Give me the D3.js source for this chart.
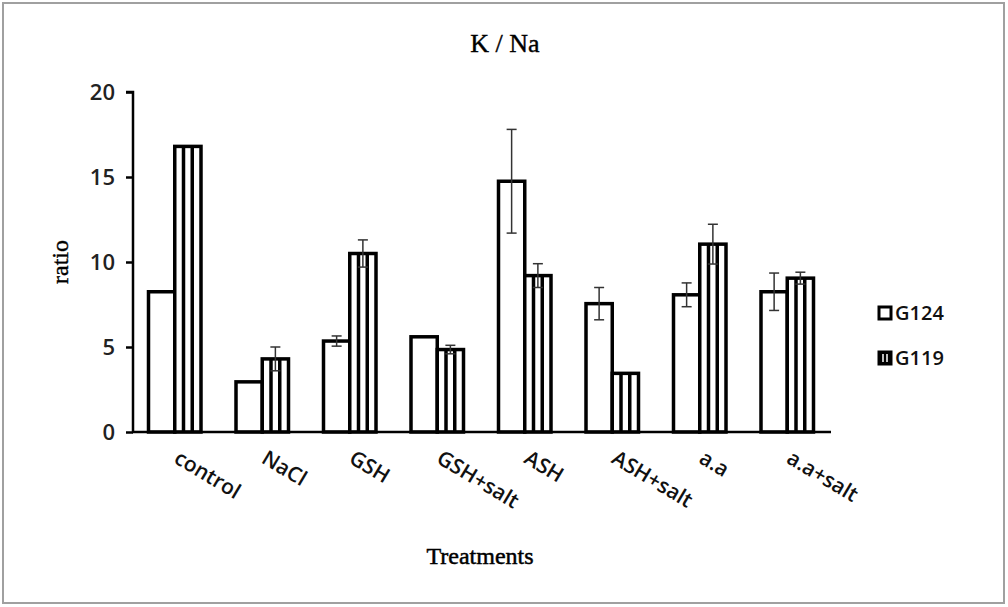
<!DOCTYPE html>
<html>
<head>
<meta charset="utf-8">
<script src="https://cdn.jsdelivr.net/npm/d3@7"></script>
<style>
  body { margin: 0; background: #fff; }
  svg { display: block; }
</style>
</head>
<body>
<svg id="chart" width="1008" height="607"></svg>
<script>
const categories = ['control', 'NaCl', 'GSH', 'GSH+salt', 'ASH', 'ASH+salt', 'a.a', 'a.a+salt'];
const seriesNames = ['G124', 'G119'];
const g124 = [8.25, 2.95, 5.35, 5.6, 14.75, 7.55, 8.07, 8.25];
const g124Err = [0.05, 0, 0.3, 0, 3.05, 0.95, 0.7, 1.1];
const g119 = [16.8, 4.3, 10.5, 4.85, 9.2, 3.45, 11.05, 9.05];
const g119Err = [0.05, 0.7, 0.8, 0.25, 0.7, 0, 1.17, 0.35];
const yTicks = [0, 5, 10, 15, 20];

const sans = '"Open Sans", sans-serif';
const serif = '"Liberation Serif", serif';

const svg = d3.select('#chart');

// outer frame
svg.append('rect')
  .attr('x', 3).attr('y', 3)
  .attr('width', 1001).attr('height', 600)
  .attr('fill', 'white')
  .attr('stroke', '#a0a0a0')
  .attr('stroke-width', 2);

const x = d3.scaleBand().domain(categories).range([131, 831]).paddingInner(0.4).paddingOuter(0.2);
const xs = d3.scaleBand().domain(seriesNames).range([0, x.bandwidth()]);
const y = d3.scaleLinear().domain([0, 20]).range([432, 92]);

const rows = categories.map((c, i) => ({
  cat: c,
  bars: [
    { name: 'G124', value: g124[i], err: g124Err[i] },
    { name: 'G119', value: g119[i], err: g119Err[i] }
  ]
}));

const groups = svg.selectAll('g.grp')
  .data(rows)
  .enter()
  .append('g')
  .attr('class', 'grp')
  .attr('transform', (d) => `translate(${x(d.cat)},0)`);

const bar = groups.selectAll('g.bar')
  .data((d) => d.bars)
  .enter()
  .append('g')
  .attr('class', 'bar');

bar.append('rect')
  .attr('x', (d) => xs(d.name))
  .attr('y', (d) => y(d.value))
  .attr('width', xs.bandwidth())
  .attr('height', (d) => y(0) - y(d.value))
  .attr('fill', 'white')
  .attr('stroke', 'black')
  .attr('stroke-width', 3.5);

// vertical stripes for G119
bar.filter((d) => d.name === 'G119')
  .selectAll('line.stripe')
  .data((d) => [1 / 3, 2 / 3].map((f) => ({ d, f })))
  .enter()
  .append('line')
  .attr('class', 'stripe')
  .attr('x1', (s) => xs(s.d.name) + xs.bandwidth() * s.f)
  .attr('x2', (s) => xs(s.d.name) + xs.bandwidth() * s.f)
  .attr('y1', (s) => y(s.d.value))
  .attr('y2', y(0))
  .attr('stroke', 'black')
  .attr('stroke-width', 3.5);

// error bars
const eb = bar.filter((d) => d.err > 0.1);
const cx = (d) => xs(d.name) + xs.bandwidth() / 2;
eb.append('line')
  .attr('x1', cx).attr('x2', cx)
  .attr('y1', (d) => y(d.value + d.err))
  .attr('y2', (d) => y(d.value - d.err))
  .attr('stroke', '#333').attr('stroke-width', 1.5);
eb.selectAll('line.cap')
  .data((d) => [d.value + d.err, d.value - d.err].map((v) => ({ d, v })))
  .enter()
  .append('line')
  .attr('class', 'cap')
  .attr('x1', (c) => cx(c.d) - 5)
  .attr('x2', (c) => cx(c.d) + 5)
  .attr('y1', (c) => y(c.v))
  .attr('y2', (c) => y(c.v))
  .attr('stroke', '#333').attr('stroke-width', 1.5);

// y axis
const yAxis = svg.append('g')
  .attr('transform', 'translate(133,0)')
  .call(d3.axisLeft(y).tickValues(yTicks).tickSize(7).tickPadding(11));
yAxis.select('.domain').attr('stroke-width', 2.5).attr('d', `M-7,${y(20)}H0V${y(0)}`);
yAxis.selectAll('.tick line').attr('stroke-width', 2.5);
yAxis.selectAll('.tick text')
  .style('font-family', sans)
  .style('font-size', '22px')
  .style('font-weight', 600)
  .attr('fill', '#222');

// x axis line
svg.append('line')
  .attr('x1', 132).attr('x2', 831)
  .attr('y1', y(0)).attr('y2', y(0))
  .attr('stroke', 'black').attr('stroke-width', 2.5);

// category labels
svg.selectAll('text.cat')
  .data(categories)
  .enter()
  .append('text')
  .attr('class', 'cat')
  .attr('transform', (d) => `translate(${x(d) + x.bandwidth() / 2 - 2},${462}) rotate(31)`)
  .style('font-family', sans)
  .style('font-size', '21px')
  .style('font-weight', 600)
  .attr('fill', '#111')
  .text((d) => d);

// titles
svg.append('text')
  .attr('x', 505).attr('y', 52)
  .attr('text-anchor', 'middle')
  .style('font-family', serif)
  .style('font-size', '26px')
  .attr('stroke', 'black').attr('stroke-width', 0.4)
  .text('K / Na');

svg.append('text')
  .attr('transform', 'translate(68,262) rotate(-90)')
  .attr('text-anchor', 'middle')
  .style('font-family', serif)
  .style('font-size', '24px')
  .attr('stroke', 'black').attr('stroke-width', 0.4)
  .text('ratio');

svg.append('text')
  .attr('x', 480).attr('y', 564)
  .attr('text-anchor', 'middle')
  .style('font-family', serif)
  .style('font-size', '24px')
  .attr('stroke', 'black').attr('stroke-width', 0.5)
  .text('Treatments');

// legend
const legend = svg.selectAll('g.leg')
  .data(seriesNames)
  .enter()
  .append('g')
  .attr('class', 'leg')
  .attr('transform', (d, i) => `translate(878,${306 + i * 45})`);

legend.append('rect')
  .attr('x', 1).attr('y', 1)
  .attr('width', 12).attr('height', 12)
  .attr('fill', (d) => (d === 'G124' ? 'white' : 'black'))
  .attr('stroke', 'black')
  .attr('stroke-width', 3);

legend.filter((d) => d === 'G119')
  .selectAll('line')
  .data([5, 9])
  .enter()
  .append('line')
  .attr('x1', (d) => d).attr('x2', (d) => d)
  .attr('y1', 3).attr('y2', 11)
  .attr('stroke', 'white').attr('stroke-width', 1.5);

legend.append('text')
  .attr('x', 17).attr('y', 14)
  .style('font-family', sans)
  .style('font-size', '20px')
  .style('font-weight', 600)
  .attr('fill', '#111')
  .text((d) => d);
</script>
</body>
</html>
